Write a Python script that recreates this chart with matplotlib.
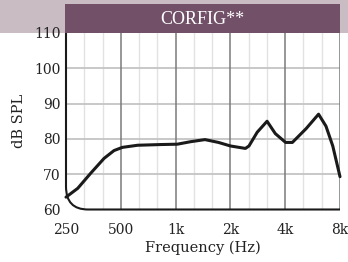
import matplotlib
matplotlib.use("Agg")
import matplotlib.pyplot as plt
from matplotlib.patches import Rectangle, PathPatch
from matplotlib.path import Path

# response curve
freq = [250, 290, 342, 405, 459, 510, 618, 829, 1022, 1207, 1450, 1720,
        2000, 2418, 2530, 2808, 3180, 3530, 4020, 4380, 5210, 6100, 6700,
        7300, 8000]
spl = [63.5, 66.0, 70.3, 74.5, 76.7, 77.6, 78.2, 78.4, 78.5, 79.2, 79.8, 79.0,
       78.0, 77.3, 78.0, 81.9, 85.0, 81.5, 79.0, 79.0, 82.9, 87.0, 83.6,
       78.0, 69.3]

xticks = [250, 500, 1000, 2000, 4000, 8000]
xlabels = ["250", "500", "1k", "2k", "4k", "8k"]
third_oct = [315, 397, 630, 794, 1260, 1587, 2520, 3175, 5040, 6350]
yticks = [60, 70, 80, 90, 100, 110]
title = "CORFIG**"

fig = plt.figure(figsize=(3.48, 2.62), dpi=100)
fig.patch.set_facecolor("white")

# light band across the top (behind everything)
fig.patches.append(Rectangle((0, 1 - 33 / 262), 1, 33 / 262, transform=fig.transFigure,
                             facecolor="#c9bdc3", edgecolor="none", zorder=-1))

ax = fig.add_axes([66 / 348, 1 - 209.5 / 262, 274 / 348, 176.5 / 262])
ax.patch.set_alpha(0)
ax.set_xscale("log")
ax.set_xlim(250, 8000)
ax.set_ylim(60, 110)

for f in third_oct:
    ax.axvline(f, color="#e2e2e2", lw=1.0, zorder=1)
for f in xticks[1:]:
    ax.axvline(f, color="#7a7a7a", lw=1.1, zorder=2)
for v in yticks[1:-1]:
    ax.axhline(v, color="#c4c4c4", lw=1.3, zorder=1)

ax.plot(freq, spl, color="#1a1a1a", lw=2.2, solid_joinstyle="round",
        solid_capstyle="round", zorder=4, clip_on=False)

ax.set_xticks(xticks)
ax.set_xticklabels(xlabels)
ax.minorticks_off()
ax.set_yticks(yticks)
ax.tick_params(length=0, labelsize=10, colors="#222222", pad=4)
ax.tick_params(axis="x", pad=10)
for lab in ax.get_xticklabels() + ax.get_yticklabels():
    lab.set_family("DejaVu Serif")

ax.set_xlabel("Frequency (Hz)", family="DejaVu Serif", fontsize=10.5,
              color="#222222", labelpad=2)
ax.set_ylabel("dB SPL", family="DejaVu Serif", fontsize=10.5,
              color="#222222", labelpad=6)

for s in ax.spines.values():
    s.set_visible(False)

# left + bottom axis with rounded corner
rx, ry = 0.08, 0.13
verts = [(0, 1), (0, ry), (0, 0), (rx, 0), (1, 0)]
codes = [Path.MOVETO, Path.LINETO, Path.CURVE3, Path.CURVE3, Path.LINETO]
ax.add_patch(PathPatch(Path(verts, codes), transform=ax.transAxes, fill=False,
                       edgecolor="#1a1a1a", lw=1.5, clip_on=False, zorder=5))

# title bar
fig.patches.append(Rectangle((65 / 348, 1 - 33 / 262), 275 / 348, 29 / 262,
                             transform=fig.transFigure, facecolor="#725068",
                             edgecolor="none", zorder=3))
fig.text(202 / 348, 1 - 19 / 262, title, color="white", ha="center", va="center",
         family="Liberation Serif", fontsize=13, zorder=4)

fig.savefig("out.png", dpi=100)
